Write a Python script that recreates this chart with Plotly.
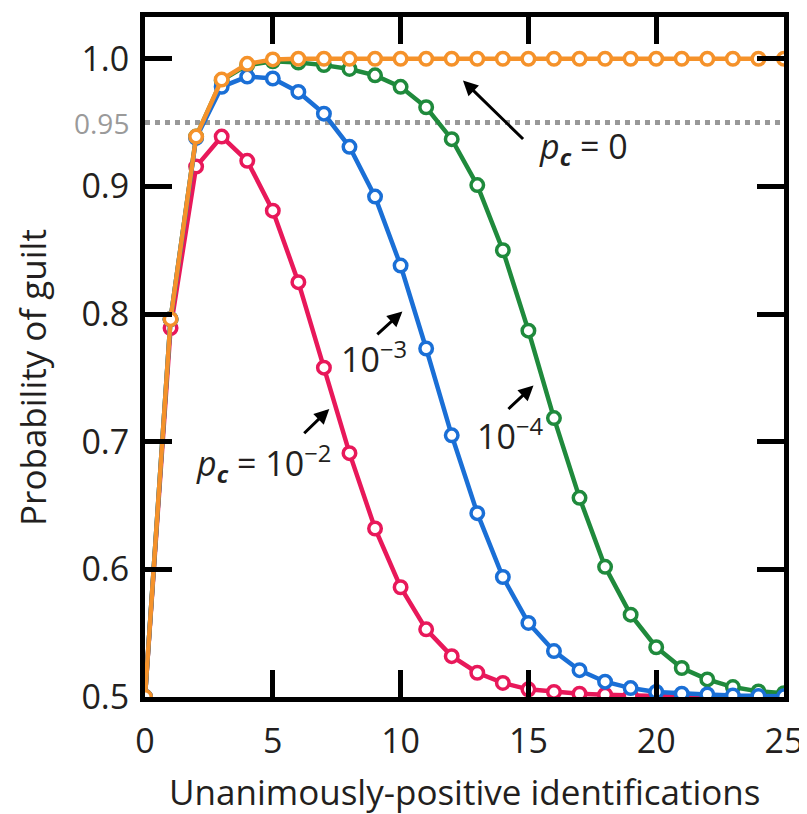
import plotly.graph_objects as go

n = list(range(26))

red_1e2 = [0.5, 0.789, 0.9155, 0.939, 0.920, 0.881, 0.825, 0.758, 0.691, 0.632,
           0.586, 0.553, 0.532, 0.519, 0.511, 0.506, 0.504, 0.5026, 0.5018, 0.501,
           0.5007, 0.5005, 0.5003, 0.5002, 0.5001, 0.5001]
blue_1e3 = [0.5, 0.796, 0.938, 0.978, 0.986, 0.9845, 0.974, 0.957, 0.931, 0.892,
            0.838, 0.773, 0.705, 0.644, 0.594, 0.558, 0.536, 0.521, 0.512, 0.507,
            0.504, 0.5026, 0.502, 0.5012, 0.5008, 0.5005]
green_1e4 = [0.5, 0.796, 0.939, 0.983, 0.995, 0.998, 0.997, 0.995, 0.992, 0.987,
             0.978, 0.962, 0.937, 0.901, 0.850, 0.787, 0.7185, 0.656, 0.602, 0.5645,
             0.539, 0.5227, 0.5138, 0.5078, 0.5044, 0.503]
orange_0 = [0.5, 0.796, 0.939, 0.9837, 0.996, 0.9995, 1.0, 1.0, 1.0, 1.0,
            1.0, 1.0, 1.0, 1.0, 1.0, 1.0, 1.0, 1.0, 1.0, 1.0,
            1.0, 1.0, 1.0, 1.0, 1.0, 1.0]

x_ticks = [0, 5, 10, 15, 20, 25]
y_ticks = [0.5, 0.6, 0.7, 0.8, 0.9, 1.0]
y_ticktext = ["0.5", "0.6", "0.7", "0.8", "0.9", "1.0"]
threshold = 0.95

FONT = "Open Sans"
TXT = "#231f20"
FS = 34

series = [
    (red_1e2, "#e8185a"),
    (green_1e4, "#1f8a3c"),
    (blue_1e3, "#1a6fd6"),
    (orange_0, "#f5922a"),
]

fig = go.Figure()
for ys, col in series:
    fig.add_trace(go.Scatter(
        x=n, y=ys, mode="lines+markers",
        line=dict(color=col, width=4.5),
        marker=dict(symbol="circle", size=12.5, color="white",
                    line=dict(color=col, width=3.5)),
        showlegend=False,
    ))

fig.add_shape(type="line", xref="x", yref="y", x0=0, x1=25, y0=threshold, y1=threshold,
              line=dict(color="#999999", width=5, dash="5px,5px"), layer="below")

fig.add_annotation(xref="paper", yref="y", x=0, y=threshold, text="0.95",
                   showarrow=False, xanchor="right", xshift=-14,
                   font=dict(family=FONT, size=28, color="#9a9a9a"))

# arrows
arrows = [
    (12.44, 0.983, 14.85, 0.936),
    (10.07, 0.802, 9.03, 0.783),
    (7.21, 0.7257, 6.17, 0.7055),
    (15.2, 0.744, 14.16, 0.7245),
]
for hx, hy, tx, ty in arrows:
    fig.add_annotation(x=hx, y=hy, ax=tx, ay=ty, xref="x", yref="y",
                       axref="x", ayref="y", text="", showarrow=True,
                       arrowhead=2, arrowsize=1.0, arrowwidth=3, arrowcolor="black")

labels = [
    (17.15, 0.930, "<i>p</i><sub><b><i>c</i></b></sub> = 0"),
    (8.97, 0.766, "10<sup>−3</sup>"),
    (4.64, 0.683, "<i>p</i><sub><b><i>c</i></b></sub> = 10<sup>−2</sup>"),
    (14.27, 0.706, "10<sup>−4</sup>"),
]
for lx, ly, t in labels:
    fig.add_annotation(x=lx, y=ly, xref="x", yref="y", text=t, showarrow=False,
                       font=dict(family=FONT, size=FS, color=TXT))

# axis titles
fig.add_annotation(xref="paper", yref="paper", x=0.5, y=-0.1394,
                   text="Unanimously-positive identifications", showarrow=False,
                   xanchor="center", yanchor="middle",
                   font=dict(family=FONT, size=35, color=TXT))
fig.add_annotation(xref="paper", yref="paper", x=-0.176, y=0.47,
                   text="Probability of guilt", showarrow=False, textangle=-90,
                   xanchor="center", yanchor="middle",
                   font=dict(family=FONT, size=35, color=TXT))

axis_common = dict(
    showline=True, linewidth=5, linecolor="black", mirror="ticks",
    ticks="inside", ticklen=27, tickwidth=5, tickcolor="black",
    showgrid=False, zeroline=False,
    tickfont=dict(family=FONT, size=FS, color=TXT),
)

fig.update_xaxes(range=[0, 25], tickvals=x_ticks, ticktext=[str(v) for v in x_ticks],
                 ticklabelstandoff=10, **axis_common)
fig.update_yaxes(range=[0.5, 1.0327], tickvals=y_ticks, ticktext=y_ticktext,
                 ticklabelstandoff=4, **axis_common)

fig.update_layout(
    width=799, height=806,
    margin=dict(l=137, r=21, t=4, b=117),
    plot_bgcolor="white", paper_bgcolor="white",
    font=dict(family=FONT, color=TXT),
)

fig.write_html("out.html")
